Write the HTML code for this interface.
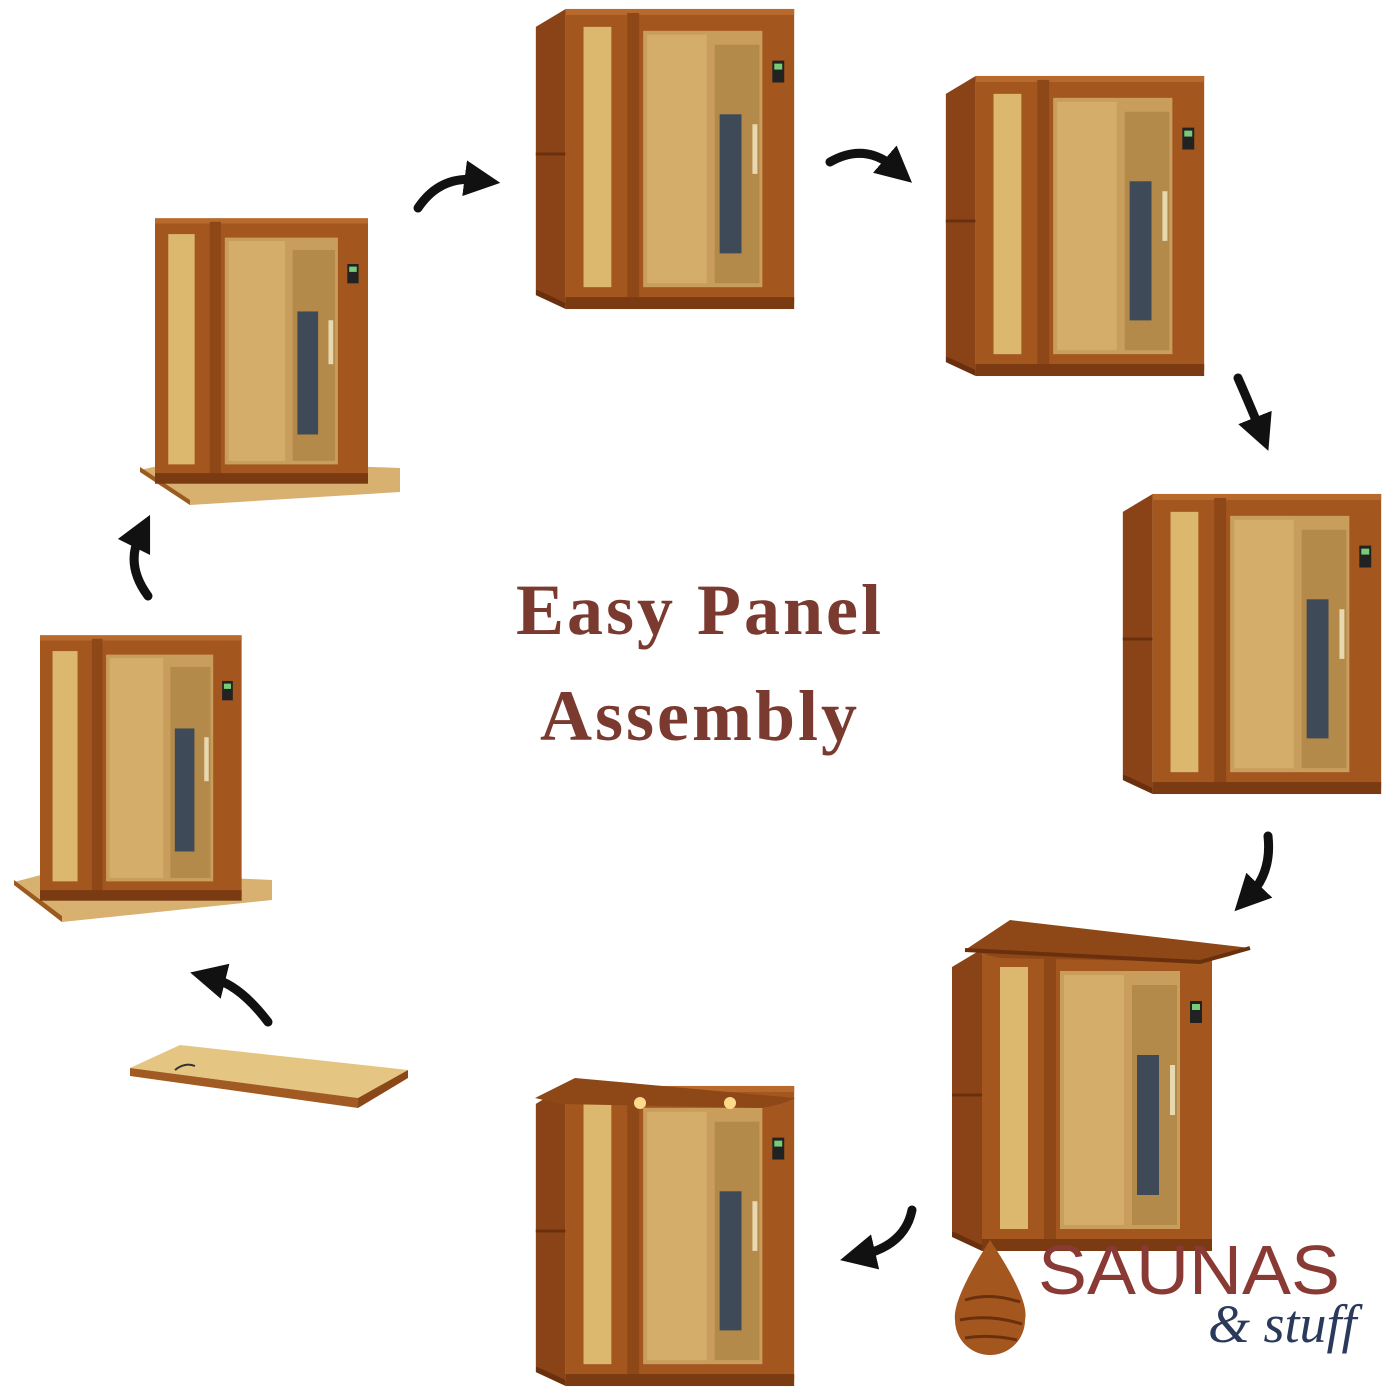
<!DOCTYPE html>
<html><head><meta charset="utf-8"><style>
html,body{margin:0;padding:0;background:#fff;}
svg{display:block}
</style></head><body>
<svg width="1400" height="1400" viewBox="0 0 1400 1400" xmlns="http://www.w3.org/2000/svg">
<defs>
<symbol id="sauna" viewBox="0 0 260 310">
  <polygon points="0,22 30,4 30,302 0,286" fill="#8a4316"/>
  <line x1="0" y1="150" x2="30" y2="150" stroke="#6a300e" stroke-width="3"/>
  <rect x="30" y="4" width="230" height="296" fill="#a4561f"/>
  <rect x="30" y="4" width="230" height="6" fill="#b86a2c"/>
  <rect x="48" y="22" width="28" height="262" fill="#dcb86e"/>
  <rect x="92" y="8" width="12" height="292" fill="#8e4817"/>
  <rect x="108" y="26" width="120" height="258" fill="#c99e5c"/>
  <rect x="180" y="40" width="45" height="240" fill="#b48a4a"/>
  <rect x="185" y="110" width="22" height="140" fill="#3f4a58"/>
  <rect x="112" y="30" width="60" height="250" fill="#d8b470" opacity="0.7"/>
  <rect x="218" y="120" width="5" height="50" fill="#e8d8b0"/>
  <rect x="238" y="56" width="12" height="22" fill="#222"/>
  <rect x="240" y="59" width="8" height="6" fill="#7c7"/>
  <rect x="30" y="294" width="230" height="12" fill="#7a3a12"/>
  <polygon points="0,286 30,300 30,306 0,292" fill="#6a300e"/>
</symbol>
<marker id="ah" markerWidth="4" markerHeight="4" refX="1.5" refY="2" orient="auto" markerUnits="strokeWidth">
  <polygon points="0,0 4,2 0,4" fill="#111"/>
</marker>
</defs>
<rect width="1400" height="1400" fill="#fff"/>

<use href="#sauna" x="535" y="5" width="260" height="308"/>
<use href="#sauna" x="945" y="72" width="260" height="308"/>
<use href="#sauna" x="1122" y="490" width="260" height="308"/>
<use href="#sauna" x="952" y="945" width="260" height="310"/>
<path d="M965,950 L1010,920 L1250,948 Q1230,958 1200,962 L1000,958 Z" fill="#8e4817"/>
<path d="M965,950 L1200,962 L1250,948" fill="none" stroke="#6a300e" stroke-width="4"/>
<use href="#sauna" x="535" y="1082" width="260" height="308"/>
<path d="M535,1098 L575,1078 L795,1098 Q780,1106 760,1108 L560,1104 Z" fill="#8e4817"/>
<circle cx="640" cy="1103" r="6" fill="#ffd98a"/><circle cx="730" cy="1103" r="6" fill="#ffd98a"/>

<polygon points="140,470 185,460 400,468 400,492 190,505 140,472" fill="#d8b070"/>
<polygon points="140,472 190,505 190,500 140,467" fill="#9a5a20"/>
<svg x="155" y="197" width="245" height="308" viewBox="30 0 230 310" preserveAspectRatio="none"><use href="#sauna"/></svg>
<polygon points="14,882 60,870 272,880 272,900 62,922 14,885" fill="#d8b070"/>
<polygon points="14,885 62,922 62,916 14,880" fill="#9a5a20"/>
<svg x="40" y="614" width="232" height="308" viewBox="30 0 230 310" preserveAspectRatio="none"><use href="#sauna"/></svg>
<polygon points="130,1068 180,1045 408,1070 358,1098" fill="#e4c582"/>
<polygon points="130,1068 358,1098 358,1108 130,1076" fill="#a05a22"/>
<polygon points="358,1098 408,1070 408,1078 358,1108" fill="#8a4818"/>
<path d="M175,1070 q10,-8 20,-4" stroke="#333" stroke-width="2" fill="none"/>

<g fill="none" stroke="#111" stroke-width="9" stroke-linecap="round">
<path d="M418,208 Q440,175 478,180" marker-end="url(#ah)"/>
<path d="M830,162 Q865,142 895,168" marker-end="url(#ah)"/>
<path d="M1238,378 Q1252,410 1260,430" marker-end="url(#ah)"/>
<path d="M1268,836 Q1272,872 1250,895" marker-end="url(#ah)"/>
<path d="M912,1210 Q905,1245 862,1255" marker-end="url(#ah)"/>
<path d="M268,1022 Q240,985 212,978" marker-end="url(#ah)"/>
<path d="M148,596 Q125,565 140,535" marker-end="url(#ah)"/>
</g>

<text x="700" y="634" text-anchor="middle" font-family="'Liberation Serif',serif" font-weight="bold" font-size="72" fill="#7b3a2f" letter-spacing="3">Easy Panel</text>
<text x="700" y="740" text-anchor="middle" font-family="'Liberation Serif',serif" font-weight="bold" font-size="72" fill="#7b3a2f" letter-spacing="3">Assembly</text>

<path d="M990,1240 Q1030,1300 1025,1320 A35,35 0 0 1 955,1320 Q952,1300 990,1240 Z" fill="#a4561f"/>
<path d="M965,1300 q25,-8 55,2 M960,1320 q30,-6 62,4 M965,1338 q25,-4 52,2" stroke="#6a300e" stroke-width="3" fill="none"/>
<text x="1038" y="1294" font-family="'Liberation Sans',sans-serif" font-size="70" fill="#8a3a34" textLength="302" lengthAdjust="spacingAndGlyphs">SAUNAS</text>
<text x="1208" y="1342" font-family="'Liberation Serif',serif" font-style="italic" font-size="54" fill="#2a3a5c">&amp; stuff</text>
</svg>
</body></html>
